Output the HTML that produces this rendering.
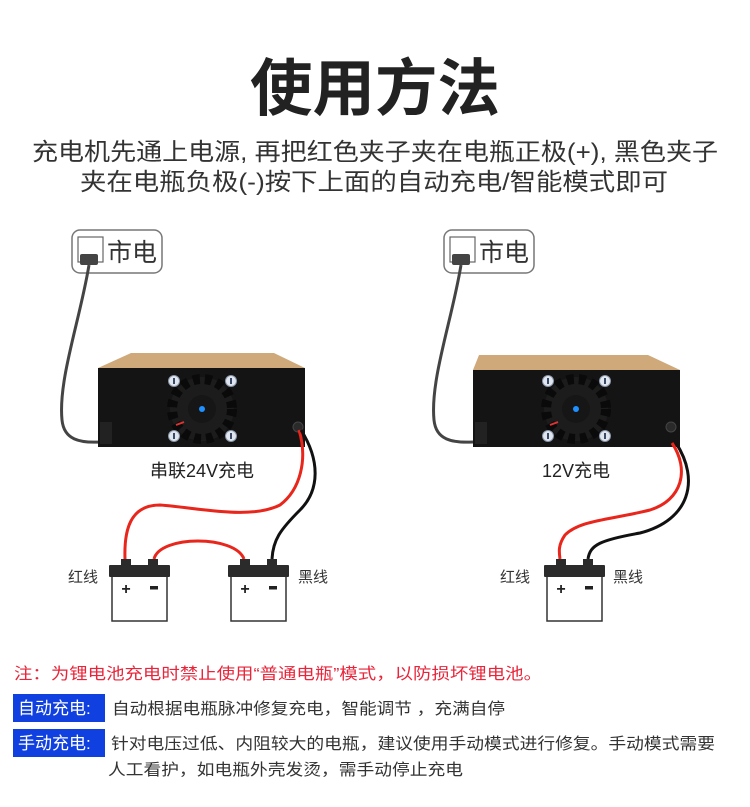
<!DOCTYPE html>
<html><head><meta charset="utf-8"><style>
html,body{margin:0;padding:0;background:#fff;}
svg{display:block;}
text{font-family:"Liberation Sans","Noto Sans CJK SC",sans-serif;}
</style></head><body>
<svg width="750" height="807" viewBox="0 0 750 807" xmlns="http://www.w3.org/2000/svg">
<defs>
<g id="fan">
  <circle r="32" fill="#1c1c1c"/>
  <circle r="30" fill="none" stroke="#0a0a0a" stroke-width="10" stroke-dasharray="7 5"/>
  <circle r="14" fill="#161616"/>
  <circle r="3" fill="#1e90ff"/>
  <line x1="-26" y1="16" x2="-18" y2="13" stroke="#d33" stroke-width="2"/>
  <g fill="#dfe6ef" stroke="#8a96a8" stroke-width="1">
    <circle cx="-28" cy="-28" r="5.5"/><circle cx="29" cy="-28" r="5.5"/>
    <circle cx="-28" cy="27" r="5.5"/><circle cx="29" cy="27" r="5.5"/>
  </g>
  <g fill="#3a4a66">
    <rect x="-29" y="-31" width="2" height="6"/><rect x="28" y="-31" width="2" height="6"/>
    <rect x="-29" y="24" width="2" height="6"/><rect x="28" y="24" width="2" height="6"/>
  </g>
</g>
<g id="batt">
  <rect x="3" y="15" width="55" height="47" fill="#fff" stroke="#333" stroke-width="1.5"/>
  <rect x="0" y="6" width="61" height="12" rx="1" fill="#2b2b2b"/>
  <rect x="12" y="0" width="10" height="8" fill="#2b2b2b"/>
  <rect x="39" y="0" width="10" height="8" fill="#2b2b2b"/>
  <text x="17" y="35" font-size="16" font-weight="bold" fill="#222" text-anchor="middle">+</text>
  <rect x="41" y="27" width="8" height="3.5" fill="#222"/>
</g>
<g id="outlet">
  <rect x="0" y="0" width="90" height="43" rx="8" fill="#fff" stroke="#777" stroke-width="1.5"/>
  <rect x="6" y="7" width="25" height="25" fill="#fff" stroke="#666" stroke-width="1.2"/>
  <rect x="8" y="24" width="18" height="11" rx="2" fill="#444"/>
  <text x="35" y="31" font-size="25" fill="#333">市电</text>
</g>
</defs>

<text x="375" y="110" font-size="62" font-weight="bold" fill="#222" text-anchor="middle" textLength="250" lengthAdjust="spacingAndGlyphs">使用方法</text>
<text x="375" y="160" font-size="24" fill="#333" text-anchor="middle" textLength="686" lengthAdjust="spacingAndGlyphs">充电机先通上电源, 再把红色夹子夹在电瓶正极(+), 黑色夹子</text>
<text x="374" y="190" font-size="24" fill="#333" text-anchor="middle" textLength="588" lengthAdjust="spacingAndGlyphs">夹在电瓶负极(-)按下上面的自动充电/智能模式即可</text>

<!-- LEFT UNIT -->
<use href="#outlet" x="72" y="230"/>
<path d="M89 265 C80 320 58 380 62 420 C64 440 80 443 100 442" fill="none" stroke="#444" stroke-width="3"/>
<polygon points="131,353 274,353 305,368 98,368" fill="#cfa97a"/>
<rect x="98" y="368" width="207" height="79" fill="#141414"/>
<rect x="100" y="422" width="12" height="22" fill="#222"/>
<use href="#fan" x="202" y="409"/>
<circle cx="298" cy="427" r="5" fill="#2a2a2a" stroke="#444"/>
<path d="M299 430 C308 460 300 490 280 505 C250 520 200 508 160 505 C130 505 124 530 125 559" fill="none" stroke="#e8261c" stroke-width="3"/>
<path d="M154 559 C160 535 235 535 244 559" fill="none" stroke="#e8261c" stroke-width="3"/>
<path d="M301 430 C320 460 320 490 300 510 C280 530 273 540 272 559" fill="none" stroke="#111" stroke-width="3"/>
<use href="#batt" x="109" y="559"/>
<use href="#batt" x="228" y="559"/>
<text x="202" y="477" font-size="18" fill="#222" text-anchor="middle">串联24V充电</text>
<text x="68" y="582" font-size="15" fill="#333">红线</text>
<text x="298" y="582" font-size="15" fill="#333">黑线</text>

<!-- RIGHT UNIT -->
<use href="#outlet" x="444" y="230"/>
<path d="M461 265 C452 320 430 380 434 420 C436 440 452 443 473 442" fill="none" stroke="#444" stroke-width="3"/>
<polygon points="479,355 648,355 680,370 473,370" fill="#cfa97a"/>
<rect x="473" y="370" width="207" height="77" fill="#141414"/>
<rect x="475" y="422" width="12" height="22" fill="#222"/>
<use href="#fan" x="576" y="409"/>
<circle cx="671" cy="427" r="5" fill="#2a2a2a" stroke="#444"/>
<path d="M672 443 C690 470 682 500 650 510 C610 520 580 520 565 535 C558 545 559 552 560 559" fill="none" stroke="#e8261c" stroke-width="3"/>
<path d="M676 443 C700 480 690 520 640 533 C600 540 590 545 588 559" fill="none" stroke="#111" stroke-width="3"/>
<use href="#batt" x="544" y="559"/>
<text x="576" y="477" font-size="18" fill="#222" text-anchor="middle">12V充电</text>
<text x="500" y="582" font-size="15" fill="#333">红线</text>
<text x="613" y="582" font-size="15" fill="#333">黑线</text>

<!-- NOTES -->
<text x="14" y="679" font-size="16" fill="#e8253a" textLength="528" lengthAdjust="spacingAndGlyphs">注：为锂电池充电时禁止使用“普通电瓶”模式，以防损坏锂电池。</text>
<rect x="13" y="694" width="92" height="28" fill="#1040e0"/>
<text x="18" y="714" font-size="17" fill="#fff">自动充电:</text>
<text x="112" y="714" font-size="16" fill="#333" textLength="393" lengthAdjust="spacingAndGlyphs">自动根据电瓶脉冲修复充电，智能调节 ，充满自停</text>
<rect x="13" y="729" width="92" height="28" fill="#1040e0"/>
<text x="18" y="749" font-size="17" fill="#fff">手动充电:</text>
<text x="111" y="749" font-size="16" fill="#333" textLength="604" lengthAdjust="spacingAndGlyphs">针对电压过低、内阻较大的电瓶，建议使用手动模式进行修复。手动模式需要</text>
<text x="108" y="775" font-size="16" fill="#333" textLength="355" lengthAdjust="spacingAndGlyphs">人工看护，如电瓶外壳发烫，需手动停止充电</text>
</svg>
</body></html>
